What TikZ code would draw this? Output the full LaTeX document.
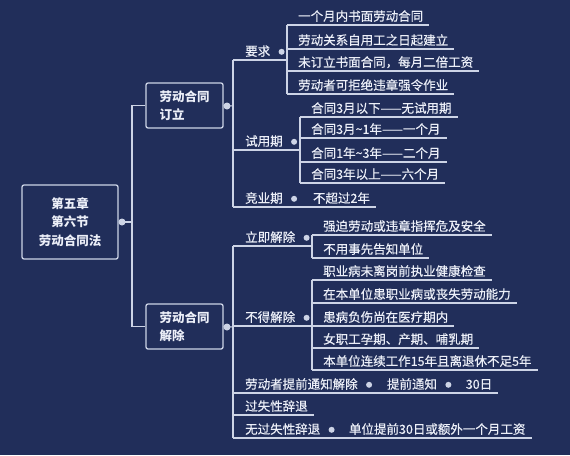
\documentclass[tikz,border=0pt]{standalone}
\usepackage{fontspec}
\setmainfont{Noto Sans CJK SC}[UprightFeatures={FakeBold=0.4}]
\usetikzlibrary{positioning}
\definecolor{bgnavy}{RGB}{33,46,90}
\definecolor{txtwhite}{RGB}{236,239,248}
\definecolor{linegray}{RGB}{205,212,230}
\tikzset{
  topic/.style={draw=linegray, line width=1.3pt, rounded corners=2pt, text=txtwhite,
    font=\bfseries\fontsize{12.5}{18.5}\selectfont},
  leaf/.style={anchor=south west, inner xsep=6pt, inner ysep=2pt, text height=10pt,
    text depth=2pt, text=txtwhite, font=\fontsize{12.5}{15}\selectfont},
  knob/.style={circle, fill=linegray, inner sep=0pt, minimum size=6pt},
  link/.style={draw=linegray, line width=1.1pt},
}
\begin{document}
\begin{tikzpicture}[x=1pt, y=-1pt]
            \fill [bgnavy] (0,0) rectangle (570,455);
            \useasboundingbox (0,0) rectangle (570,455);
            % root and the two main topics
            \node [topic, align=center, minimum width=96pt, minimum height=74pt] (law) at (70,222) {第五章\\第六节\\劳动合同法};
            \node [knob, minimum size=7pt] (lawk) at (122,222) {};
            \node [topic, align=left, text width=50pt, minimum width=77pt, minimum height=45pt] (sign) at (184.5,105.5) {劳动合同\\订立};
            \node [knob, minimum size=7pt] (signk) at (227,106) {};
            \node [topic, align=left, text width=50pt, minimum width=77pt, minimum height=45pt] (quit) at (184.5,326.5) {劳动合同\\解除};
            \node [knob, minimum size=7pt] (quitk) at (227,327) {};
            \coordinate (trunk) at (132,0);
            \coordinate (bsign) at (233,0);
            \coordinate (bquit) at (233,0);
            \draw [link] (law.east) -- (trunk |- law.east);
            \draw [link] (sign.west) -- (trunk |- sign.west) -- (trunk |- quit.west) -- (quit.west);
            \draw [link] (sign.east) -- (bsign |- signk);
            \draw [link] (quit.east) -- (bquit |- quitk);
            % 订立: 要求
            \node [leaf] (req) at (239,60) {要求};
            \node [knob, right=2pt of req] (reqk) {};
            \coordinate (breq) at (287,0);
            \node [leaf] (req1) at (292,25) {一个月内书面劳动合同};
            \node [leaf] (req2) at (292,49) {劳动关系自用工之日起建立};
            \node [leaf] (req3) at (292,71) {未订立书面合同，每月二倍工资};
            \node [leaf] (req4) at (292,94) {劳动者可拒绝违章强令作业};
            \draw [link] (bsign |- req.south) -- (breq |- req.south);
            \draw [link] (breq |- req1.south) -- (breq |- req4.south);
            \draw [link] (breq |- req1.south) -- (req1.south east);
            \draw [link] (breq |- req2.south) -- (req2.south east);
            \draw [link] (breq |- req3.south) -- (req3.south east);
            \draw [link] (breq |- req4.south) -- (req4.south east);
            % 订立: 试用期
            \node [leaf] (trial) at (239,150) {试用期};
            \node [knob, right=2pt of trial] (trialk) {};
            \coordinate (btrial) at (300,0);
            \node [leaf] (trial1) at (305,117) {合同3月以下——无试用期};
            \node [leaf] (trial2) at (305,138) {合同3月\textasciitilde1年——一个月};
            \node [leaf] (trial3) at (305,162) {合同1年\textasciitilde3年——二个月};
            \node [leaf] (trial4) at (305,183) {合同3年以上——六个月};
            \draw [link] (bsign |- trial.south) -- (btrial |- trial.south);
            \draw [link] (btrial |- trial1.south) -- (btrial |- trial4.south);
            \draw [link] (btrial |- trial1.south) -- (trial1.south east);
            \draw [link] (btrial |- trial2.south) -- (trial2.south east);
            \draw [link] (btrial |- trial3.south) -- (trial3.south east);
            \draw [link] (btrial |- trial4.south) -- (trial4.south east);
            % 订立: 竞业期
            \node [leaf] (noncomp) at (239,207) {竞业期};
            \node [knob, right=2pt of noncomp] (noncompk) {};
            \node [leaf, right=9.5pt of noncompk] (noncomp1) {不超过2年};
            \draw [link] (bsign |- req.south) -- (bsign |- noncomp.south);
            \draw [link] (bsign |- noncomp.south) -- (noncomp1.south east);
            % 解除: 立即解除
            \node [leaf] (now) at (239,246) {立即解除};
            \node [knob, right=2pt of now] (nowk) {};
            \coordinate (bnow) at (312,0);
            \node [leaf] (now1) at (317,235) {强迫劳动或违章指挥危及安全};
            \node [leaf] (now2) at (317,258) {不用事先告知单位};
            \draw [link] (bquit |- now.south) -- (bnow |- now.south);
            \draw [link] (bnow |- now1.south) -- (bnow |- now2.south);
            \draw [link] (bnow |- now1.south) -- (now1.south east);
            \draw [link] (bnow |- now2.south) -- (now2.south east);
            % 解除: 不得解除
            \node [leaf] (never) at (239,326) {不得解除};
            \node [knob, right=2pt of never] (neverk) {};
            \coordinate (bnever) at (312,0);
            \node [leaf] (never1) at (317,280) {职业病未离岗前执业健康检查};
            \node [leaf] (never2) at (317,303) {在本单位患职业病或丧失劳动能力};
            \node [leaf] (never3) at (317,326) {患病负伤尚在医疗期内};
            \node [leaf] (never4) at (317,348) {女职工孕期、产期、哺乳期};
            \node [leaf] (never5) at (317,370) {本单位连续工作15年且离退休不足5年};
            \draw [link] (bquit |- never.south) -- (bnever |- never.south);
            \draw [link] (bnever |- never1.south) -- (bnever |- never5.south);
            \draw [link] (bnever |- never1.south) -- (never1.south east);
            \draw [link] (bnever |- never2.south) -- (never2.south east);
            \draw [link] (bnever |- never3.south) -- (never3.south east);
            \draw [link] (bnever |- never4.south) -- (never4.south east);
            \draw [link] (bnever |- never5.south) -- (never5.south east);
            % 解除: 劳动者提前通知解除
            \node [leaf] (notice) at (239,393) {劳动者提前通知解除};
            \node [knob, right=2pt of notice] (noticek) {};
            \node [leaf, right=8.5pt of noticek] (notice1) {提前通知};
            \node [knob, right=2pt of notice1] (notice1k) {};
            \node [leaf, right=8pt of notice1k] (notice2) {30日};
            \draw [link] (bquit |- notice.south) -- (notice2.south east);
            % 解除: 过失性辞退
            \node [leaf] (fault) at (239,415) {过失性辞退};
            \draw [link] (bquit |- fault.south) -- (fault.south east);
            % 解除: 无过失性辞退
            \node [leaf] (nofault) at (239,438) {无过失性辞退};
            \node [knob, right=2pt of nofault] (nofaultk) {};
            \node [leaf, right=8pt of nofaultk] (nofault1) {单位提前30日或额外一个月工资};
            \draw [link] (bquit |- now.south) -- (bquit |- nofault.south);
            \draw [link] (bquit |- nofault.south) -- (nofault1.south east);
        \end{tikzpicture}
\end{document}
